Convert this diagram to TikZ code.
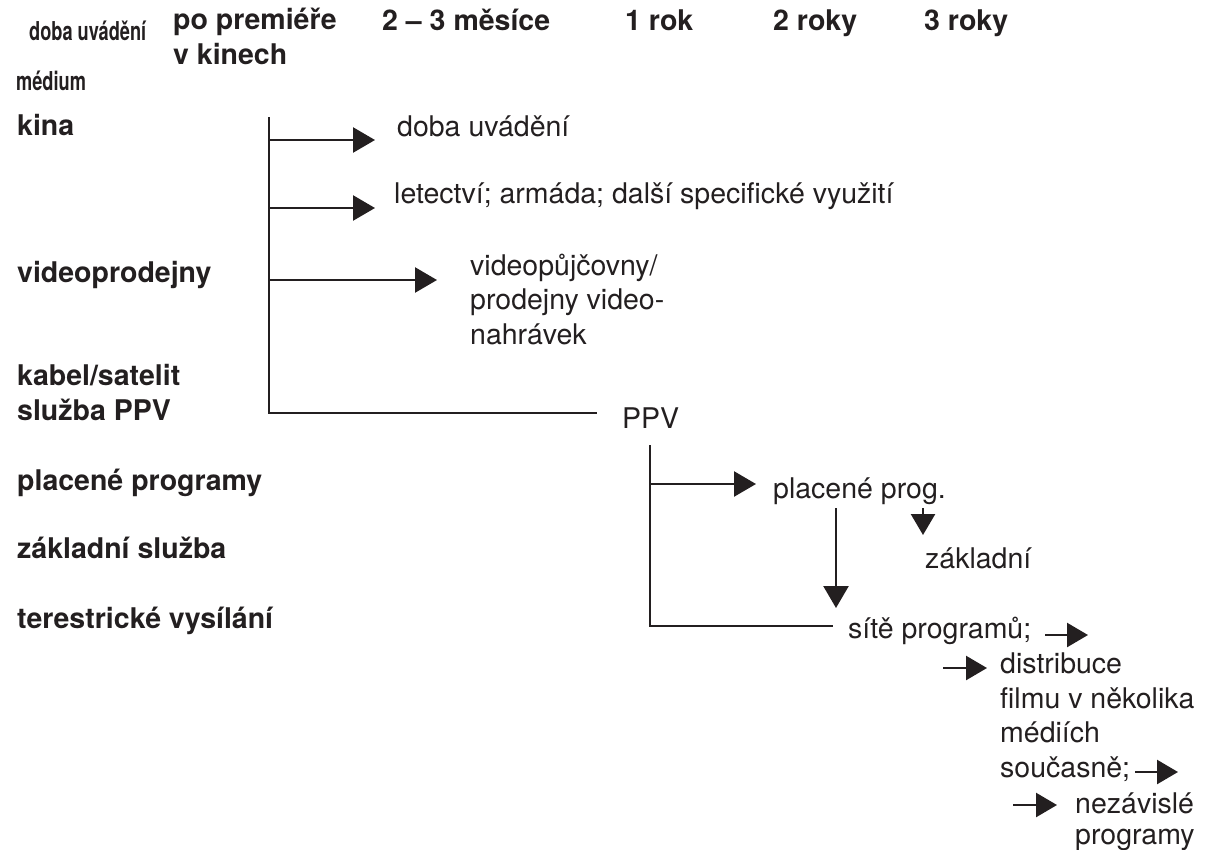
\documentclass[tikz,border=0pt]{standalone}
\usepackage{fontspec}
\setmainfont{TeX Gyre Heros}
\usetikzlibrary{arrows.meta}
\definecolor{ink}{HTML}{231F20}
\newcommand\condtext[1]{\scalebox{0.7}[1]{\fontsize{26}{26}\selectfont\bfseries #1}}
\begin{document}
\begin{tikzpicture}[x=1pt,y=-1pt,
  txt/.style={inner sep=0pt, anchor=base west, font=\fontsize{28.5}{34.5}\selectfont, text=ink, align=left},
  bld/.style={txt, font=\fontsize{28.5}{34.5}\selectfont\bfseries},
  cnd/.style={inner sep=0pt, anchor=base west, text=ink},
  ln/.style={draw=ink, line width=2.5pt},
  arr/.style={ln, -{Triangle[length=22pt,width=25pt]}},
  sarr/.style={ln, -{Triangle[length=21pt,width=24pt]}}]
\useasboundingbox (0,0) rectangle (1218,849);
% header (multi-line nodes: base = baseline of last line)
\node[cnd] (hdoba) at (29,40) {\condtext{doba uvádění}};
\node[cnd] (hmed) at (16,90) {\condtext{médium}};
\node[bld] (h0) at (173,64) {po premiéře\\v kinech};
\node[bld] (h1) at (382,30) {2 – 3 měsíce};
\node[bld] (h2) at (625,30) {1 rok};
\node[bld] (h3) at (773,30) {2 roky};
\node[bld] (h4) at (924,30) {3 roky};
% left column
\node[bld] (m1) at (17,135) {kina};
\node[bld] (m2) at (17,282) {videoprodejny};
\node[bld] (m3) at (17,420) {kabel/satelit\\služba PPV};
\node[bld] (m4) at (17,490) {placené programy};
\node[bld] (m5) at (17,558) {základní služba};
\node[bld] (m6) at (17,628) {terestrické vysílání};
% right texts
\node[txt] (doba) at (397,136) {doba uvádění};
\node[txt] (let) at (394,203) {letectví; armáda; další specifické využití};
\node[txt] (vid) at (470,344) {videopůjčovny/\\prodejny video-\\nahrávek};
\node[txt] (ppv) at (622,428) {PPV};
\node[txt] (plac) at (773,498) {placené prog.};
\node[txt] (zakl) at (925,568) {základní};
\node[txt] (site) at (848,638) {sítě programů;};
\node[txt] (dist) at (1000,777) {distribuce\\filmu v několika\\médiích\\současně;};
\node[txt] (nez) at (1075,844) {nezávislé\\[-4pt]programy};
% first bracket
\coordinate (b1t) at (269,117);
\coordinate (b1b) at (269,413);
\coordinate (b1e) at (597,413);
\draw[ln] (b1t) -- (b1b) -- (b1e);
\coordinate (a1) at (269,140);
\coordinate (a2) at (269,208);
\coordinate (a3) at (269,280);
\draw[arr] (a1) -- ([xshift=-22pt]a1 -| doba.west);
\draw[arr] (a2) -- ([xshift=-19pt]a2 -| let.west);
\draw[arr] (a3) -- ([xshift=-33pt]a3 -| vid.west);
% second bracket
\coordinate (b2t) at (650,445);
\coordinate (b2b) at (650,626);
\coordinate (b2e) at (833,626);
\draw[ln] (b2t) -- (b2b) -- (b2e);
\coordinate (a4) at (650,484);
\draw[arr] (a4) -- ([xshift=-17pt]a4 -| plac.west);
\coordinate (d1s) at (836,508);
\coordinate (d1e) at (836,608);
\draw[arr] (d1s) -- (d1e);
\coordinate (d2s) at (923,508);
\coordinate (d2e) at (923,535);
\draw[sarr] (d2s) -- (d2e);
% small arrows
\coordinate (s1s) at (1045,635);
\coordinate (s1e) at (1088,635);
\draw[sarr] (s1s) -- (s1e);
\coordinate (s2s) at (943,668);
\draw[sarr] (s2s) -- ([xshift=-13pt]s2s -| dist.west);
\coordinate (s3s) at (1135,772);
\coordinate (s3e) at (1178,772);
\draw[sarr] (s3s) -- (s3e);
\coordinate (s4s) at (1013,805);
\draw[sarr] (s4s) -- ([xshift=-18pt]s4s -| nez.west);
\end{tikzpicture}
\end{document}
